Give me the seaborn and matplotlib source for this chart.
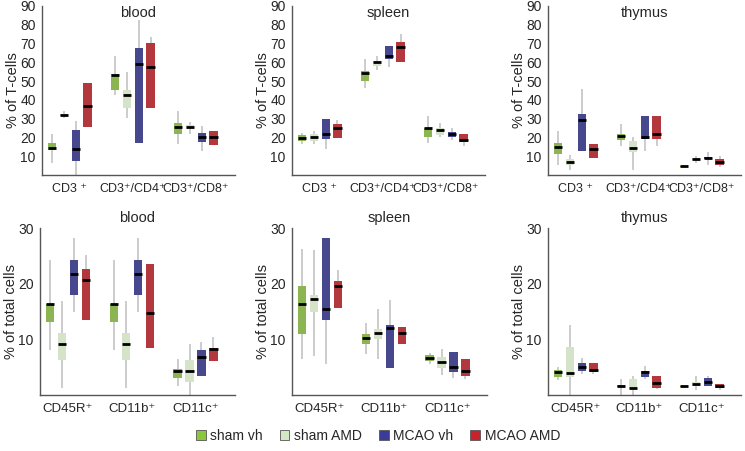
import numpy as np
import pandas as pd
import seaborn as sns
import matplotlib.pyplot as plt
from matplotlib.patches import Patch

groups = ['sham vh', 'sham AMD', 'MCAO vh', 'MCAO AMD']
colors = ['#8cc63f', '#d5e8c4', '#3b3b9a', '#c8232c']

tcell_cats = ['CD3 \u207a', 'CD3\u207a/CD4\u207a', 'CD3\u207a/CD8\u207a']
cell_cats = ['CD45R\u207a', 'CD11b\u207a', 'CD11c\u207a']

# each box: [whisker low, q1, median, q3, whisker high]
blood_tcells = [
    [[6.4, 13.2, 14.6, 17.1, 22], [30.5, 31.5, 32, 32.5, 34], [0, 7.5, 13.6, 23.8, 29], [25.5, 25.5, 36.8, 48.8, 48.8]],
    [[42.7, 45.4, 53.5, 53.6, 63.2], [30.5, 35.9, 42.5, 45.4, 55], [16.8, 16.8, 58.9, 67.5, 82.5], [35.9, 35.9, 57.5, 70.4, 73.4]],
    [[16.3, 22, 25.7, 27.9, 34.3], [22, 24.3, 25.4, 26.4, 28.2], [12.7, 17.5, 20.2, 22.5, 26], [15.9, 15.9, 20.2, 23.4, 23.4]],
]
spleen_tcells = [
    [[16.3, 18, 19.8, 21.3, 22.5], [16.3, 18, 20.2, 21.6, 23.4], [14.1, 19.3, 22, 29.6, 29.6], [19.6, 19.6, 24.8, 27.3, 29.1]],
    [[46.3, 49.8, 54.3, 55.5, 61.8], [55.9, 57.9, 60, 60.9, 63.2], [57.3, 61.8, 63.2, 68.6, 68.6], [60, 60, 68.4, 70.7, 75.2]],
    [[17.1, 20.2, 24.8, 25.2, 31.4], [20.2, 21.1, 23.9, 24.8, 27.9], [18.9, 20.2, 22, 22.9, 25.2], [15.4, 17.5, 18.4, 22.1, 22.1]],
]
thymus_tcells = [
    [[5.2, 11, 14.8, 17, 23.4], [2.9, 5.2, 7, 8.6, 10.9], [12.7, 12.7, 29.1, 32.7, 45.7], [9.1, 9.1, 13.9, 16.6, 16.6]],
    [[15.4, 18.9, 20.7, 21.6, 27], [2.5, 12.5, 14.3, 18, 20.4], [13, 19.3, 20.2, 31.4, 31.4], [15.7, 19.3, 22, 31.4, 31.4]],
    [[4.3, 4.4, 4.6, 4.9, 5.0], [6.4, 7.9, 8.4, 8.8, 10], [5.5, 8.6, 9.1, 9.6, 12.1], [4.3, 5.2, 6.8, 8.6, 10]],
]
blood_cells = [
    [[8, 13.1, 16.3, 16.3, 24.3], [1.3, 6.3, 9.2, 11.2, 16.9], [14.9, 18, 21.7, 24.3, 28.2], [13.4, 13.4, 20.7, 22.7, 25.1]],
    [[8, 13.1, 16.3, 16.3, 24.3], [1.3, 6.3, 9.2, 11.2, 16.9], [14.9, 18, 21.7, 24.3, 28.2], [8.5, 8.5, 14.7, 23.5, 23.5]],
    [[1.7, 3.1, 4.25, 4.7, 6.5], [0, 2.3, 4.4, 6.2, 9.2], [3.5, 3.5, 6.8, 8, 9.5], [6.1, 6.1, 8.3, 8.4, 10.4]],
]
spleen_cells = [
    [[6.5, 10.9, 16.4, 19.5, 26.2], [7, 14.9, 17.3, 18, 26], [5.5, 13.5, 15.5, 28.2, 28.2], [15.7, 15.7, 19.5, 20.5, 22.5]],
    [[7.3, 9.2, 10.2, 10.9, 12.9], [6.5, 10, 11.2, 11.8, 15.5], [4.9, 4.9, 12, 12.5, 17], [9.1, 9.1, 11.2, 12.3, 12.3]],
    [[5.5, 6.1, 6.6, 7.1, 7.5], [3.6, 4.8, 6, 6.9, 8.3], [3.1, 4.2, 5, 7.7, 7.7], [2.9, 3.5, 4.3, 6.4, 6.4]],
]
thymus_cells = [
    [[2.7, 3.2, 4.06, 4.5, 5], [0, 3.3, 3.9, 8.7, 12.5], [3.8, 4.3, 5.1, 5.7, 6.7], [3.8, 4.2, 4.5, 5.7, 5.7]],
    [[0, 1.4, 1.6, 1.8, 2.9], [0, 1.3, 1.3, 2.9, 3.5], [2.9, 3.2, 4.06, 4.3, 5.2], [1, 1.3, 2.2, 3.5, 3.5]],
    [[1.3, 1.4, 1.56, 1.7, 1.7], [0.9, 1.7, 2, 2.4, 3.5], [1.7, 1.7, 2.4, 3, 3.5], [0.9, 1.3, 1.56, 2, 2]],
]

sns.set_style('white')
plt.rcParams['font.family'] = ['Liberation Sans', 'DejaVu Sans']

fig = plt.figure(figsize=(7.45, 4.51), dpi=100)
W, H = 745, 451


def panel(left, top, bottom, right, boxes, cats, xfont, ylim, yticks, ylabel, title, title_y):
    ax = fig.add_axes([left / W, 1 - bottom / H, (right - left) / W, (bottom - top) / H])
    rows = []
    for ci, cat in enumerate(cats):
        for gi, g in enumerate(groups):
            for v in boxes[ci][gi]:
                rows.append((cat, g, v))
    df = pd.DataFrame(rows, columns=['cat', 'group', 'value'])
    sns.boxplot(data=df, x='cat', y='value', hue='group', order=cats, hue_order=groups,
                palette=colors, width=0.75, gap=0.3, whis=(0, 100), showcaps=False,
                linecolor='#c4c4c4', linewidth=1.2, legend=False, ax=ax,
                boxprops=dict(edgecolor='none'),
                medianprops=dict(color='black', linewidth=2))
    ax.set_xlim(-0.44, 2.62)
    ax.set_ylim(*ylim)
    ax.set_yticks(yticks)
    ax.set_xticks([0, 1, 2])
    ax.set_xticklabels(cats, fontsize=xfont)
    ax.set_xticks([0.5, 1.5], minor=True)
    ax.tick_params(axis='x', which='major', length=0, pad=6)
    ax.tick_params(axis='x', which='minor', length=4, width=1, color='#555555', direction='out')
    ax.tick_params(axis='y', length=3, width=1, color='#555555', direction='out', labelsize=10, pad=1.5)
    ax.set_xlabel('')
    ax.set_ylabel(ylabel, fontsize=10.5)
    ax.yaxis.set_label_coords(-0.115, 0.5)
    for s in ['top', 'right']:
        ax.spines[s].set_visible(False)
    for s in ['left', 'bottom']:
        ax.spines[s].set_color('#555555')
        ax.spines[s].set_linewidth(1)
    ax.text(0.5, title_y, title, transform=ax.transAxes, ha='center', va='center', fontsize=10.5)
    return ax


top_rows = [(42, 235, blood_tcells, 'blood'), (292, 485, spleen_tcells, 'spleen'), (548, 741, thymus_tcells, 'thymus')]
for l, r, data, name in top_rows:
    panel(l, 6, 175, r, data, tcell_cats, 9, (0, 90), range(10, 91, 10), '% of T-cells', name, 0.96)

bottom_rows = [(40, 235, blood_cells, 'blood'), (292, 487, spleen_cells, 'spleen'), (548, 741, thymus_cells, 'thymus')]
for l, r, data, name in bottom_rows:
    panel(l, 228, 395, r, data, cell_cats, 9.5, (0, 30), [10, 20, 30], '% of total cells', name, 1.06)

handles = [Patch(facecolor=c, edgecolor='#555555', linewidth=0.6) for c in colors]
fig.legend(handles, groups, loc='center', bbox_to_anchor=(378 / W, 1 - 436 / H), ncol=4,
           frameon=False, fontsize=10, handlelength=0.7, handleheight=0.7,
           handletextpad=0.35, columnspacing=1.2)

fig.savefig('out.png', dpi=100)
